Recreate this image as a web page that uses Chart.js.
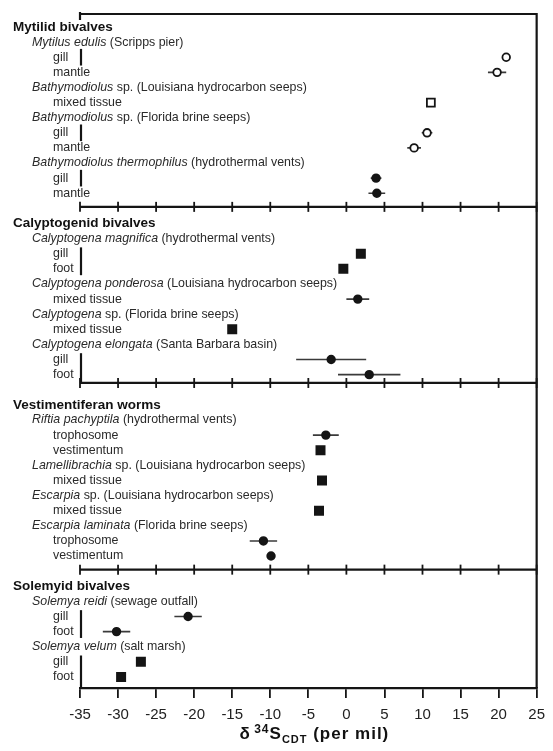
<!DOCTYPE html>
<html>
<head>
<meta charset="utf-8">
<script src="https://cdn.jsdelivr.net/npm/chart.js@4.4.1/dist/chart.umd.min.js"></script>
<style>
html,body{margin:0;padding:0;background:#fff;}
canvas{display:block;}
</style>
</head>
<body>
<canvas id="c" width="553" height="751"></canvas>
<script>
// ---------- DATA ----------
// Row list: g = group title, s = species (italic part, plain part), t = tissue, b = panel break
const rows = [
  ['g','Mytilid bivalves'],
  ['s','Mytilus edulis',' (Scripps pier)'],
  ['t','gill'],['t','mantle'],
  ['s','Bathymodiolus',' sp. (Louisiana hydrocarbon seeps)'],
  ['t','mixed tissue'],
  ['s','Bathymodiolus',' sp. (Florida brine seeps)'],
  ['t','gill'],['t','mantle'],
  ['s','Bathymodiolus thermophilus',' (hydrothermal vents)'],
  ['t','gill'],['t','mantle'],
  ['b'],
  ['g','Calyptogenid bivalves'],
  ['s','Calyptogena magnifica',' (hydrothermal vents)'],
  ['t','gill'],['t','foot'],
  ['s','Calyptogena ponderosa',' (Louisiana hydrocarbon seeps)'],
  ['t','mixed tissue'],
  ['s','Calyptogena',' sp. (Florida brine seeps)'],
  ['t','mixed tissue'],
  ['s','Calyptogena elongata',' (Santa Barbara basin)'],
  ['t','gill'],['t','foot'],
  ['b'],
  ['g','Vestimentiferan worms'],
  ['s','Riftia pachyptila',' (hydrothermal vents)'],
  ['t','trophosome'],['t','vestimentum'],
  ['s','Lamellibrachia',' sp. (Louisiana hydrocarbon seeps)'],
  ['t','mixed tissue'],
  ['s','Escarpia',' sp. (Louisiana hydrocarbon seeps)'],
  ['t','mixed tissue'],
  ['s','Escarpia laminata',' (Florida brine seeps)'],
  ['t','trophosome'],['t','vestimentum'],
  ['b'],
  ['g','Solemyid bivalves'],
  ['s','Solemya reidi',' (sewage outfall)'],
  ['t','gill'],['t','foot'],
  ['s','Solemya velum',' (salt marsh)'],
  ['t','gill'],['t','foot']
];

// one value per tissue row, in order
const d34S = [21.0, 19.8, 11.1, 10.6, 8.9, 3.9, 4.0,
              1.9, -0.4, 1.5, -15.0, -2.0, 3.0,
              -2.7, -3.4, -3.2, -3.6, -10.9, -9.9,
              -20.8, -30.2, -27.0, -29.6];
const spread = [0, 1.2, 0, 0.7, 0.9, 0.7, 1.1,
                0, 0, 1.5, 0, 4.6, 4.1,
                1.7, 0, 0, 0, 1.8, 0.5,
                1.8, 1.8, 0, 0];
// oc = open circle, os = open square, fc = filled circle, fs = filled square
const markers = ['oc','oc','os','oc','oc','fc','fc',
                 'fs','fs','fc','fs','fc','fc',
                 'fc','fs','fs','fs','fc','fc',
                 'fc','fc','fs','fs'];
const xTicks = [-35,-30,-25,-20,-15,-10,-5,0,5,10,15,20,25];

// ---------- BUILD ----------
const FONT = '"Liberation Sans", Arial, Helvetica, sans-serif';
const INK = '#151515';
const tissueRows = [];
rows.forEach((r,i)=>{ if(r[0]==='t') tissueRows.push(i); });

const styleDefs = {
  oc:{pointStyle:'circle', radius:3.8, bg:'#ffffff'},
  os:{pointStyle:'rect', radius:5.6, bg:'#ffffff'},
  fc:{pointStyle:'circle', radius:3.8, bg:INK},
  fs:{pointStyle:'rect', radius:5.8, bg:INK}
};
const datasets = [];
Object.keys(styleDefs).forEach(k=>{
  const s = styleDefs[k];
  datasets.push({
    type:'scatter', label:k, order:1,
    data: d34S.map((v,j)=> markers[j]===k ? {x:v, y:tissueRows[j]} : null).filter(Boolean),
    pointStyle:s.pointStyle, pointRadius:s.radius, pointBackgroundColor:s.bg,
    pointBorderColor:INK, pointBorderWidth:1.8, showLine:false
  });
});
d34S.forEach((v,j)=>{
  if(spread[j] > 0){
    datasets.push({
      type:'line', order:2,
      data:[{x:v-spread[j], y:tissueRows[j]},{x:v+spread[j], y:tissueRows[j]}],
      borderColor:'#3a3a3a', borderWidth:1.6, pointRadius:0, fill:false
    });
  }
});

// layout constants (pixels / row units)
const LBL_X = {g:13, s:32, t:53};
const SEP_SHIFT = [-0.1, -0.45, -0.1];

const decor = {
  id:'decor',
  beforeDatasetsDraw(chart){
    const ctx = chart.ctx, ca = chart.chartArea;
    const xs = chart.scales.x, ys = chart.scales.y;
    ctx.save();
    ctx.strokeStyle = INK;
    ctx.lineCap = 'butt';
    // top and right frame
    ctx.lineWidth = 2.2;
    ctx.beginPath();
    ctx.moveTo(ca.left, ca.top); ctx.lineTo(ca.right, ca.top); ctx.lineTo(ca.right, ca.bottom);
    ctx.stroke();
    ctx.beginPath(); ctx.moveTo(xs.getPixelForValue(xTicks[0]), ca.top-2); ctx.lineTo(xs.getPixelForValue(xTicks[0]), ca.top+6); ctx.stroke();
    // panel separators with crossing ticks
    const breaks = [];
    rows.forEach((r,i)=>{ if(r[0]==='b') breaks.push(i); });
    const sepY = breaks.map((b,k)=> ys.getPixelForValue(b + SEP_SHIFT[k]));
    sepY.forEach(y=>{
      ctx.lineWidth = 2.2;
      ctx.beginPath(); ctx.moveTo(ca.left, y); ctx.lineTo(ca.right, y); ctx.stroke();
      ctx.lineWidth = 1.8;
      xTicks.forEach(t=>{
        const x = xs.getPixelForValue(t);
        ctx.beginPath(); ctx.moveTo(x, y-5); ctx.lineTo(x, y+5); ctx.stroke();
      });
    });
    // brackets beside paired tissues that start with "gill"
    let panel = 0;
    ctx.lineWidth = 2.2;
    rows.forEach((r,i)=>{
      if(r[0]==='b'){ panel++; return; }
      if(r[0]==='t' && r[1]==='gill'){
        const x = xs.getPixelForValue(xTicks[0]) + 1;
        let y0, y1;
        if(panel===0){ y0 = ys.getPixelForValue(i-0.55); y1 = ys.getPixelForValue(i+0.55); }
        else {
          y0 = ys.getPixelForValue(i-0.42);
          const nxt = rows[i+2];
          if(!nxt || nxt[0]==='b'){ y1 = panel < sepY.length ? sepY[panel] : ca.bottom; }
          else y1 = ys.getPixelForValue(i+1.42);
        }
        ctx.beginPath(); ctx.moveTo(x, y0); ctx.lineTo(x, y1); ctx.stroke();
      }
    });
    // row labels
    ctx.textBaseline = 'middle';
    ctx.textAlign = 'left';
    rows.forEach((r,i)=>{
      const y = ys.getPixelForValue(i);
      if(r[0]==='g'){
        ctx.font = 'bold 13.5px ' + FONT; ctx.fillStyle = '#111';
        ctx.fillText(r[1], LBL_X.g, y);
      } else if(r[0]==='s'){
        ctx.fillStyle = '#2a2a2a';
        ctx.font = 'italic 12.4px ' + FONT;
        ctx.fillText(r[1], LBL_X.s, y);
        const w = ctx.measureText(r[1]).width;
        ctx.font = '12.4px ' + FONT;
        ctx.fillText(r[2], LBL_X.s + w, y);
      } else if(r[0]==='t'){
        ctx.fillStyle = '#2a2a2a';
        ctx.font = '12.4px ' + FONT;
        ctx.fillText(r[1], LBL_X.t, y);
      }
    });
    ctx.restore();
  },
  afterDraw(chart){
    const ctx = chart.ctx, ca = chart.chartArea;
    const parts = [
      {t:'\u03b4', f:'bold 17px ', dy:0},
      {t:' ', f:'bold 9px ', dy:0},
      {t:'34', f:'bold 12px ', dy:-6},
      {t:'S', f:'bold 17px ', dy:0},
      {t:'CDT', f:'bold 11px ', dy:4},
      {t:' (per mil)', f:'bold 17px ', dy:0}
    ];
    ctx.save();
    ctx.fillStyle = '#111';
    ctx.textBaseline = 'alphabetic';
    ctx.letterSpacing = '1px';
    let total = 0;
    parts.forEach(p=>{ ctx.font = p.f + FONT; p.w = ctx.measureText(p.t).width; total += p.w; });
    let x = (ca.left + ca.right)/2 + 6 - total/2;
    const base = ca.bottom + 51;
    parts.forEach(p=>{ ctx.font = p.f + FONT; ctx.fillText(p.t, x, base + p.dy); x += p.w; });
    ctx.restore();
  }
};

new Chart(document.getElementById('c'), {
  data:{ datasets },
  options:{
    responsive:false,
    animation:false,
    devicePixelRatio:1,
    layout:{ padding:{left:80, right:16, top:14, bottom:23} },
    plugins:{ legend:{display:false}, tooltip:{enabled:false} },
    scales:{
      x:{
        type:'linear', position:'bottom', min:-35, max:25,
        afterBuildTicks(s){ s.ticks = xTicks.map(v=>({value:v})); },
        afterFit(s){ s.height = 40; },
        grid:{ drawOnChartArea:false, drawTicks:true, tickLength:10, color:INK, lineWidth:1.8 },
        border:{ display:true, color:INK, width:2.2 },
        ticks:{ padding:8, color:'#222', font:{family:FONT, size:15}, autoSkip:false, maxRotation:0,
                callback:(v)=> String(v) }
      },
      y:{ type:'linear', reverse:true, min:-0.86, max:43.73, display:false }
    }
  },
  plugins:[decor]
});
</script>
</body>
</html>
